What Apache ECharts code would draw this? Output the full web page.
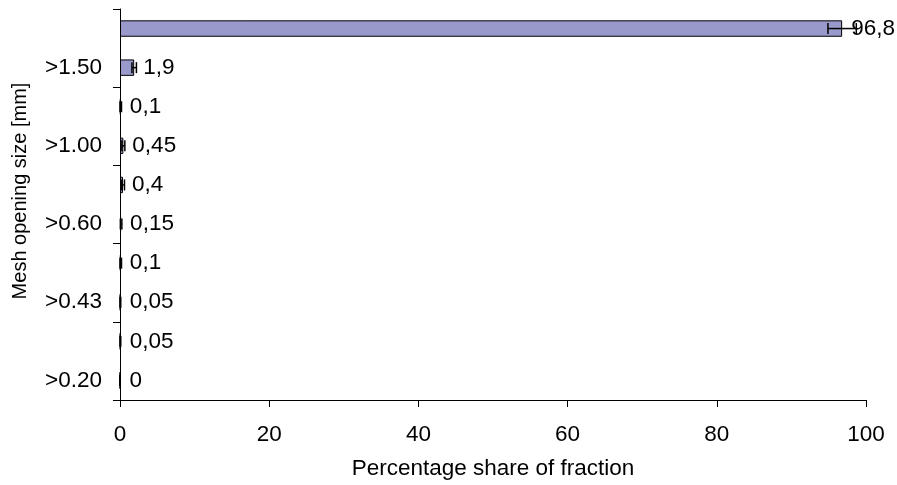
<!DOCTYPE html>
<html>
<head>
<meta charset="utf-8">
<script src="https://cdn.jsdelivr.net/npm/echarts@6/dist/echarts.min.js"></script>
<style>html,body{margin:0;padding:0;background:#fff}#c{width:897px;height:485px}</style>
</head>
<body>
<div id="c"></div>
<script>
// categories bottom to top (only every other one is labelled in the reference)
const categories = ['>0.20', '>0.30', '>0.43', '>0.50', '>0.60', '>0.80', '>1.00', '>1.25', '>1.50', '>2.00'];
const values = [0, 0.05, 0.05, 0.1, 0.15, 0.4, 0.45, 0.1, 1.9, 96.8];
const labels = ['0', '0,05', '0,05', '0,1', '0,15', '0,4', '0,45', '0,1', '1,9', '96,8'];
const errors = [0, 0.05, 0.05, 0.1, 0.1, 0.2, 0.2, 0.1, 0.3, 1.9];
const xTicks = [0, 20, 40, 60, 80, 100];

const FONT = 'Liberation Sans, Arial, sans-serif';
const FS = 22.5;
const chart = echarts.init(document.getElementById('c'));
chart.setOption({
  animation: false,
  backgroundColor: '#fff',
  grid: { left: 120, right: 31, top: 9, bottom: 84, containLabel: false },
  xAxis: {
    type: 'value', min: xTicks[0], max: xTicks[xTicks.length - 1], interval: 20,
    name: 'Percentage share of fraction', nameLocation: 'middle', nameGap: 57,
    nameTextStyle: { fontFamily: FONT, fontSize: FS, color: '#000' },
    axisLine: { show: true, lineStyle: { color: '#000', width: 1 } },
    axisTick: { show: true, length: 7, lineStyle: { color: '#000' } },
    axisLabel: { fontFamily: FONT, fontSize: FS, color: '#000', margin: 23 },
    splitLine: { show: false }
  },
  yAxis: {
    type: 'category', data: categories,
    axisLine: { show: true, lineStyle: { color: '#000', width: 1 } },
    axisTick: { show: true, length: 7, lineStyle: { color: '#000' } },
    axisLabel: { fontFamily: FONT, fontSize: FS, color: '#000', margin: 18, interval: 1 },
    splitLine: { show: false }
  },
  graphic: [{
    type: 'text', x: 20, y: 191, rotation: Math.PI / 2,
    style: { text: 'Mesh opening size [mm]', fontFamily: FONT, fontSize: 20, fill: '#000', align: 'center', verticalAlign: 'middle' }
  }],
  series: [{
    type: 'bar', data: values, barCategoryGap: '58%',
    itemStyle: { color: '#9999cc', borderColor: '#000', borderWidth: 1 },
    label: {
      show: true, position: 'right', distance: 9,
      fontFamily: FONT, fontSize: FS, color: '#000',
      formatter: p => labels[p.dataIndex]
    },
    z: 2
  }, {
    type: 'custom',
    data: values.map((v, i) => [i, v, errors[i]]),
    encode: { x: 1, y: 0 },
    renderItem: function (params, api) {
      const idx = api.value(0), v = api.value(1), e = api.value(2);
      const lo = api.coord([v - e, idx]);
      const hi = api.coord([v + e, idx]);
      const h = 5.5;
      const st = { stroke: '#000', lineWidth: 1.5 };
      return {
        type: 'group', children: [
          { type: 'line', shape: { x1: lo[0], y1: lo[1], x2: hi[0], y2: hi[1] }, style: st },
          { type: 'line', shape: { x1: lo[0], y1: lo[1] - h, x2: lo[0], y2: lo[1] + h }, style: st },
          { type: 'line', shape: { x1: hi[0], y1: hi[1] - h, x2: hi[0], y2: hi[1] + h }, style: st }
        ]
      };
    },
    z: 3
  }]
});
</script>
</body>
</html>
